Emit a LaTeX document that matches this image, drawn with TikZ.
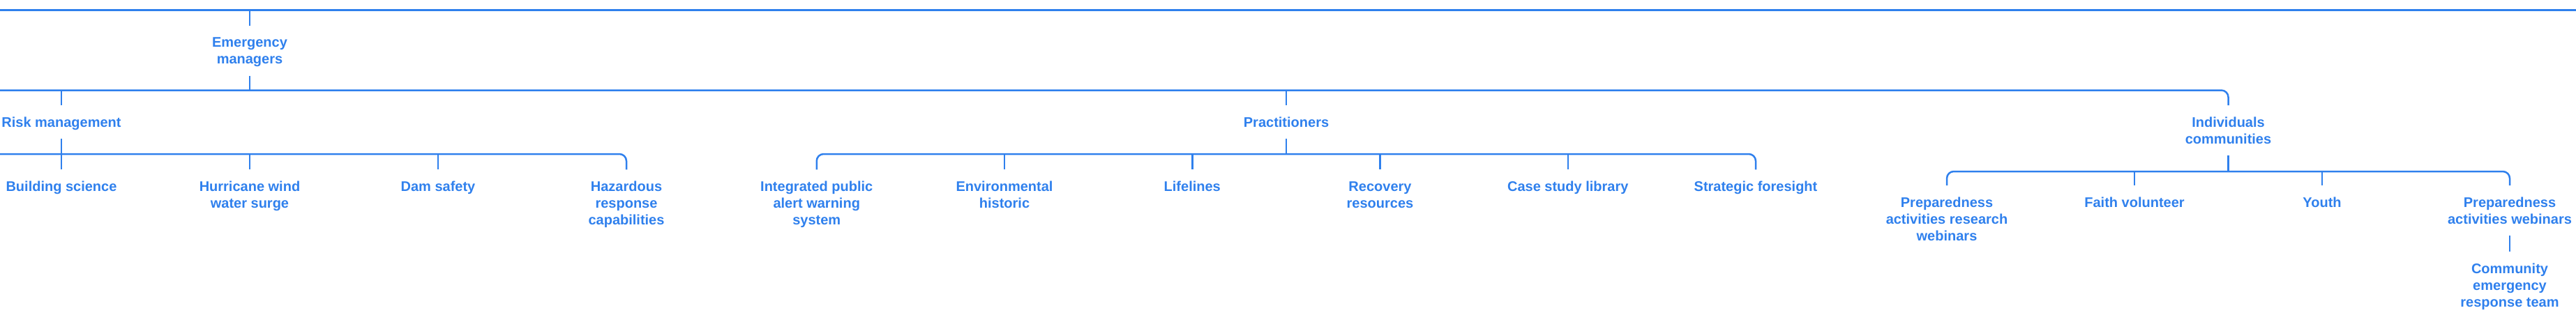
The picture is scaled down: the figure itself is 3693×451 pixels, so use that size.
\documentclass[tikz,border=0pt]{standalone}
\usepackage{fontspec}
\setmainfont{Liberation Sans}
\definecolor{fblue}{RGB}{47,128,237}
\newcommand{\ls}{\rule[-6pt]{0pt}{22pt}}
\begin{document}
\begin{tikzpicture}[x=1pt,y=-1pt,
  lbl/.style={font=\bfseries\fontsize{20}{24}\selectfont, text=fblue, align=center, inner sep=0pt, outer sep=0pt, anchor=north},
  conn/.style={draw=fblue, line width=2.5pt},
  elbow/.style={conn, rounded corners=10pt}]
\useasboundingbox (0,0) rectangle (3693,451);
% free ends (diagram is cropped)
\coordinate (topL) at (0,14.3);
\coordinate (topR) at (3693,14.3);
\coordinate (lvlL) at (0,129.5);
\coordinate (riskL) at (0,221);
% level 1
\node[lbl] (em) at (358,51.5) {\ls Emergency\\\ls managers};
% level 2
\node[lbl] (risk) at (88,166) {\ls Risk management};
\node[lbl] (prac) at (1844,166) {\ls Practitioners};
\node[lbl] (indiv) at (3194.5,166) {\ls Individuals\\\ls communities};
% risk children
\node[lbl] (bs) at (88,258.3) {\ls Building science};
\node[lbl] (hw) at (358,258.3) {\ls Hurricane wind\\\ls water surge};
\node[lbl] (ds) at (628,258.3) {\ls Dam safety};
\node[lbl] (hz) at (898,258.3) {\ls Hazardous\\\ls response\\\ls capabilities};
% practitioners children
\node[lbl] (ip) at (1170.75,258.3) {\ls Integrated public\\\ls alert warning\\\ls system};
\node[lbl] (eh) at (1440,258.3) {\ls Environmental\\\ls historic};
\node[lbl] (lf) at (1709.25,258.3) {\ls Lifelines};
\node[lbl] (rr) at (1978.5,258.3) {\ls Recovery\\\ls resources};
\node[lbl] (cs) at (2247.75,258.3) {\ls Case study library};
\node[lbl] (sf) at (2517,258.3) {\ls Strategic foresight};
% individuals children
\node[lbl] (pr) at (2791,281) {\ls Preparedness\\\ls activities research\\\ls webinars};
\node[lbl] (fv) at (3060,281) {\ls Faith volunteer};
\node[lbl] (yo) at (3329,281) {\ls Youth};
\node[lbl] (pw) at (3598,281) {\ls Preparedness\\\ls activities webinars};
\node[lbl] (ce) at (3598,376) {\ls Community\\\ls emergency\\\ls response team};
% connectors
\draw[conn] (topL) -- (topR);
\draw[conn] (em.north |- topL) -- ([yshift=15pt]em.north);
\draw[conn] ([yshift=-11pt]em.south) -- (em.south |- lvlL);
\draw[elbow] (lvlL) -- (indiv.north |- lvlL) -- ([yshift=15pt]indiv.north);
\draw[conn] (risk.north |- lvlL) -- ([yshift=15pt]risk.north);
\draw[conn] (prac.north |- lvlL) -- ([yshift=15pt]prac.north);
% risk group
\draw[conn] ([yshift=-11pt]risk.south) -- (risk.south |- riskL);
\draw[elbow] (riskL) -- (hz.north |- riskL) -- ([yshift=15pt]hz.north);
\foreach \c in {bs,hw,ds}
  \draw[conn] (\c.north |- riskL) -- ([yshift=15pt]\c.north);
% practitioners group
\draw[conn] ([yshift=-11pt]prac.south) -- ++(0,22) coordinate (pbar);
\draw[elbow] ([yshift=15pt]ip.north) -- (ip.north |- pbar) -- (sf.north |- pbar) -- ([yshift=15pt]sf.north);
\foreach \c in {eh,lf,rr,cs}
  \draw[conn] (\c.north |- pbar) -- ([yshift=15pt]\c.north);
% individuals group
\draw[conn] ([yshift=-11pt]indiv.south) -- ++(0,23) coordinate (ibar);
\draw[elbow] ([yshift=15pt]pr.north) -- (pr.north |- ibar) -- (pw.north |- ibar) -- ([yshift=15pt]pw.north);
\foreach \c in {fv,yo}
  \draw[conn] (\c.north |- ibar) -- ([yshift=15pt]\c.north);
\draw[conn] ([yshift=-11pt]pw.south) -- ([yshift=15pt]ce.north);
\end{tikzpicture}
\end{document}
